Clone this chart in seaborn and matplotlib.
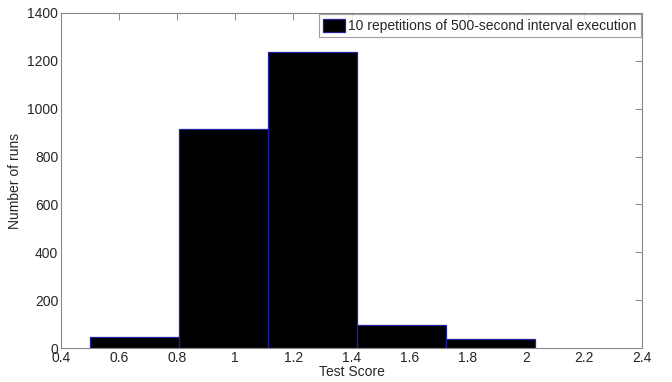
import matplotlib
matplotlib.use("Agg")
import matplotlib.pyplot as plt
import seaborn as sns
import numpy as np
import pandas as pd

bin_edges = [0.5, 0.806, 1.112, 1.418, 1.724, 2.03]
counts = [48, 917, 1236, 96, 36]
legend_label = "10 repetitions of 500-second interval execution"
x_ticks = [0.4, 0.6, 0.8, 1.0, 1.2, 1.4, 1.6, 1.8, 2.0, 2.2, 2.4]
x_tick_labels = ["0.4", "0.6", "0.8", "1", "1.2", "1.4", "1.6", "1.8", "2", "2.2", "2.4"]
y_ticks = [0, 200, 400, 600, 800, 1000, 1200, 1400]

sns.set_style("white")
plt.rcParams['font.family'] = ['Liberation Sans Narrow', 'Liberation Sans', 'DejaVu Sans']

centers = [(bin_edges[i] + bin_edges[i + 1]) / 2 for i in range(len(counts))]
df = pd.DataFrame({"score": centers, "runs": counts})

fig = plt.figure(figsize=(6.72, 3.82), dpi=100)
ax = fig.add_axes([61 / 672, 34 / 382, 581 / 672, 335 / 382])
sns.histplot(data=df, x="score", weights="runs", bins=bin_edges, ax=ax,
             color="black", edgecolor="#2020a0", linewidth=0.9, alpha=1.0,
             label=legend_label)

ax.set_xlim(0.4, 2.4)
ax.set_ylim(0, 1400)
ax.set_xticks(x_ticks)
ax.set_xticklabels(x_tick_labels)
ax.set_yticks(y_ticks)
ax.set_xlabel("Test Score", fontsize=10, labelpad=0)
ax.set_ylabel("Number of runs", fontsize=10, labelpad=4)
ax.tick_params(axis="both", direction="in", length=5, width=0.6, color="#777777",
               labelsize=10, top=True, right=True, pad=2)
for s in ax.spines.values():
    s.set_color("#888888")
    s.set_linewidth(0.8)

leg = ax.legend(loc="upper right", fontsize=10, frameon=True, fancybox=False,
                borderaxespad=0.1, handlelength=1.6, handleheight=1.1,
                borderpad=0.3, handletextpad=0.2)
leg.get_frame().set_edgecolor("#888888")
leg.get_frame().set_linewidth(0.8)

fig.savefig("out.png", dpi=100)
